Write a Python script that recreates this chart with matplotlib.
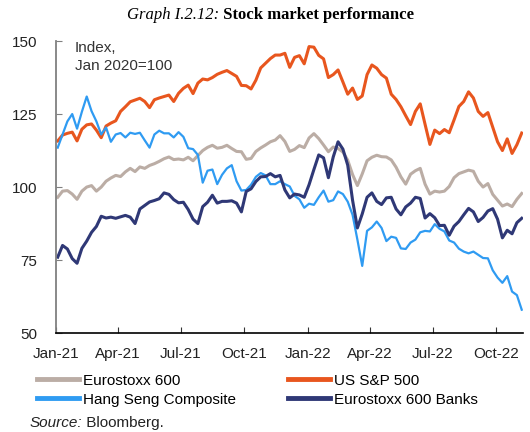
import pandas as pd
import matplotlib
matplotlib.use("Agg")
import matplotlib.pyplot as plt
import matplotlib.dates as mdates

plt.rcParams["font.family"] = ["Liberation Sans", "DejaVu Sans"]

# weekly readings, Jan 2020 = 100
dates = pd.date_range("2021-01-04", periods=97, freq="7D")

eurostoxx = [96.5, 98.6, 98.8, 97.6, 95.8, 98.6, 100.0, 100.5, 98.6, 100.0,
             102.0, 103.1, 104.0, 103.6, 105.2, 106.4, 105.3, 106.9, 106.4, 107.4,
             108.0, 108.8, 109.7, 110.3, 109.4, 109.6, 109.3, 110.2, 109.0, 110.8,
             112.5, 113.6, 114.3, 113.3, 113.6, 114.3, 113.2, 112.2, 112.1, 109.5,
             109.8, 112.2, 113.4, 114.4, 115.5, 116.1, 117.6, 115.6, 112.2, 112.9,
             114.2, 113.5, 116.8, 118.3, 116.6, 114.4, 112.1, 113.7, 113.2, 112.0,
             109.2, 104.3, 100.5, 104.5, 109.0, 110.2, 110.9, 110.4, 110.3, 109.3,
             106.8, 103.5, 101.0, 104.4, 105.6, 106.4, 101.0, 97.6, 98.6, 98.3,
             98.6, 100.2, 103.2, 104.6, 105.2, 105.8, 105.4, 102.0, 100.0, 101.2,
             97.5, 95.5, 93.5, 94.2, 93.3, 95.8, 97.8]

sp500 = [115.8, 117.8, 118.4, 118.8, 115.8, 119.8, 121.3, 121.6, 119.5, 116.9,
         120.9, 121.9, 122.7, 125.9, 127.5, 129.2, 129.8, 130.4, 129.3, 127.2,
         129.9, 130.5, 131.0, 131.5, 129.3, 132.1, 133.8, 134.9, 132.0, 135.6,
         137.0, 136.7, 137.5, 138.6, 139.3, 139.9, 138.9, 137.9, 134.8, 134.7,
         133.6, 136.6, 140.8, 142.4, 144.0, 145.2, 145.2, 145.8, 141.0, 144.4,
         145.0, 142.2, 148.1, 147.9, 145.1, 143.9, 137.5, 138.5, 140.1, 136.0,
         131.8, 133.9, 130.0, 131.2, 138.5, 141.8, 140.7, 138.5, 137.3, 131.8,
         130.0, 127.5, 124.4, 121.4, 125.9, 128.5, 121.5, 114.6, 119.5, 118.3,
         119.7, 118.6, 123.0, 127.6, 129.3, 132.6, 130.5, 125.9, 124.2, 125.5,
         120.5, 115.5, 112.5, 116.5, 111.5, 114.5, 118.5]

hang_seng = [113.5, 118.0, 122.5, 125.0, 120.0, 125.8, 131.0, 126.0, 122.5, 118.0,
             120.4, 115.5, 118.0, 118.5, 117.0, 118.6, 118.2, 118.6, 116.0, 113.5,
             118.0, 119.3, 118.4, 118.4, 117.0, 118.8, 117.2, 113.3, 113.0, 111.0,
             101.5, 105.6, 106.0, 101.0, 104.2, 106.4, 107.5, 102.0, 98.8, 99.0,
             100.8, 103.5, 104.8, 104.0, 101.0, 101.0, 102.0, 101.0, 100.2, 97.0,
             95.8, 92.9, 94.3, 93.9, 96.5, 98.8, 95.0, 95.5, 98.5, 97.6,
             95.0, 90.5, 82.0, 73.0, 85.0, 86.2, 88.2, 86.0, 81.5, 83.0,
             82.6, 79.0, 78.8, 81.0, 82.0, 84.5, 85.0, 84.8, 87.3, 85.7,
             84.8, 81.7, 81.0, 78.9, 77.9, 77.3, 77.9, 76.8, 75.7, 75.6,
             71.5, 69.0, 67.2, 69.5, 64.2, 63.0, 58.0]

banks = [76.0, 80.0, 78.8, 75.5, 73.9, 79.0, 81.5, 84.5, 86.5, 90.0,
         89.4, 89.7, 89.3, 89.8, 90.3, 89.7, 87.5, 92.5, 93.7, 94.9,
         95.4, 96.0, 98.0, 97.5, 95.7, 94.6, 94.8, 92.3, 89.0, 87.5,
         93.3, 94.8, 97.2, 94.5, 95.1, 95.1, 95.3, 94.5, 91.5, 98.5,
         99.4, 101.9, 103.5, 103.6, 104.6, 103.5, 104.0, 99.0, 96.3, 97.6,
         97.3, 96.5, 100.8, 106.0, 111.0, 110.0, 103.2, 110.3, 115.5, 113.0,
         107.5, 95.5, 86.0, 90.8, 96.5, 98.0, 95.1, 94.0, 96.3, 96.5,
         92.5, 90.5, 93.2, 94.5, 96.5, 96.1, 89.4, 90.9, 89.5, 86.8,
         86.9, 83.5, 86.6, 88.2, 90.5, 92.7, 91.5, 88.2, 89.6, 91.8,
         92.6, 89.0, 82.6, 85.2, 84.0, 87.8, 89.3]

fig = plt.figure(figsize=(5.3, 4.32), dpi=100)
ax = fig.add_axes([0.105, 0.229, 0.882, 0.676])

l_eu, = ax.plot(dates, eurostoxx, color="#BBADA5", lw=2.2, label="Eurostoxx 600")
l_sp, = ax.plot(dates, sp500, color="#E8561E", lw=2.2, label="US S&P 500")
l_hs, = ax.plot(dates, hang_seng, color="#2F9BF2", lw=1.6, label="Hang Seng Composite")
l_bk, = ax.plot(dates, banks, color="#2F3876", lw=2.2, label="Eurostoxx 600 Banks")

ax.set_ylim(50, 150)
ax.set_yticks([50, 75, 100, 125, 150])
ax.set_xlim(pd.Timestamp("2021-01-01"), pd.Timestamp("2022-11-09"))
ax.xaxis.set_major_locator(mdates.MonthLocator(bymonth=[1, 4, 7, 10]))
ax.xaxis.set_major_formatter(mdates.DateFormatter("%b-%y"))

for s in ["top", "right"]:
    ax.spines[s].set_visible(False)
ax.spines["left"].set_color("#808080")
ax.spines["left"].set_linewidth(1.3)
ax.spines["bottom"].set_color("black")
ax.spines["bottom"].set_linewidth(1.2)
ax.tick_params(axis="y", direction="in", length=4, color="#808080", labelsize=11, pad=13, labelcolor="#222222")
ax.tick_params(axis="x", direction="in", length=4, color="#333333", labelsize=11, pad=10, labelcolor="#222222")

ax.text(0.041, 1.0, "Index,\nJan 2020=100", transform=ax.transAxes, fontsize=11,
        va="top", ha="left", color="#333333", linespacing=1.35)

fig.legend(handles=[l_eu, l_hs, l_sp, l_bk], loc="upper left", bbox_to_anchor=(0.07, 0.135),
           ncol=2, frameon=False, fontsize=11, handlelength=2.75, handletextpad=0.25,
           columnspacing=3.4, labelspacing=0.33, borderaxespad=0, borderpad=0)
for h in fig.legends[0].legend_handles:
    h.set_linewidth(3.5)

# title and source with mixed styles
r = fig.canvas.get_renderer()
serif = dict(family=["Liberation Serif", "DejaVu Serif"], fontsize=12, va="center", color="black")
t1 = fig.text(0, 0.965, "Graph I.2.12:", fontstyle="italic", **serif)
t2 = fig.text(0, 0.965, " Stock market performance", fontweight="bold", **serif)
w1 = t1.get_window_extent(r).width / fig.bbox.width
w2 = t2.get_window_extent(r).width / fig.bbox.width
x0 = 0.51 - (w1 + w2) / 2
t1.set_x(x0)
t2.set_x(x0 + w1)

s1 = fig.text(0.055, 0.012, "Source:", fontstyle="italic", fontsize=11, va="baseline", color="#222222")
ws = s1.get_window_extent(r).width / fig.bbox.width
fig.text(0.055 + ws, 0.012, " Bloomberg.", fontsize=11, va="baseline", color="#222222")

fig.savefig("out.png", dpi=100)
